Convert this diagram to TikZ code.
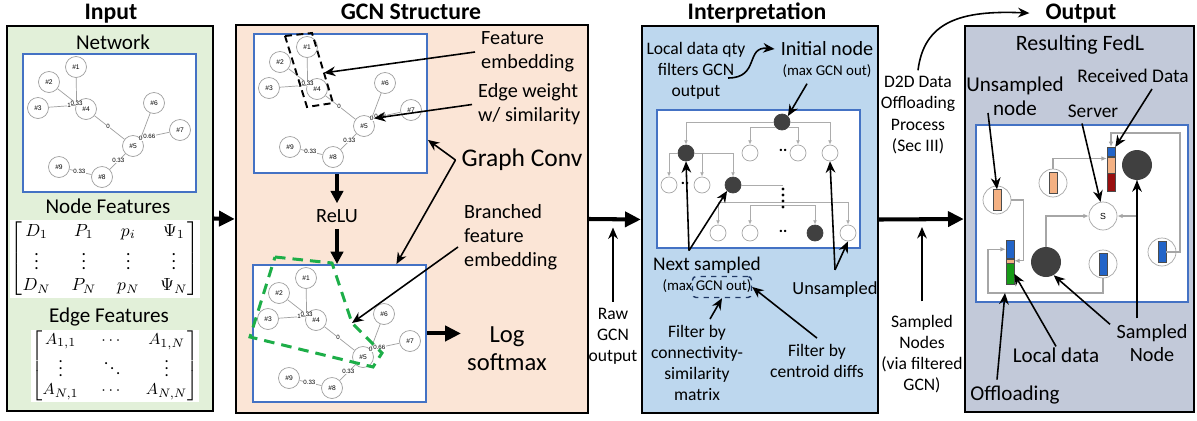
\documentclass[tikz,border=0pt]{standalone}
\usepackage[no-math]{fontspec}
\usepackage{amssymb,amsfonts,amsmath}
\usepackage{tikz}
\usetikzlibrary{shapes.geometric, arrows.meta}
\setmainfont{Carlito}
\newfontfamily\graphfont{Liberation Sans}

\definecolor{inputgreen}{HTML}{E2F0D9}
\definecolor{gcnpeach}{HTML}{FBE5D6}
\definecolor{interpblue}{HTML}{BDD7EE}
\definecolor{outgray}{HTML}{C2C9D9}
\definecolor{boxblue}{HTML}{4472C4}
\definecolor{nodedark}{HTML}{404040}
\definecolor{barorange}{HTML}{F4B183}
\definecolor{barblue}{HTML}{2264C8}
\definecolor{barred}{HTML}{990F0F}
\definecolor{bargreen}{HTML}{179A17}
\definecolor{embgreen}{HTML}{1DAE48}
\definecolor{tagblue}{HTML}{203864}

\tikzset{
    panel/.style={draw=black, line width=1.4pt},
    paneltitle/.style={font=\fontsize{13.5}{16}\selectfont\bfseries, anchor=base},
    label12/.style={font=\fontsize{12}{14}\selectfont, align=center},
    label115/.style={font=\fontsize{11.5}{13.6}\selectfont},
    label10/.style={font=\fontsize{10}{12}\selectfont, align=center},
    netbox/.style={draw=boxblue, line width=1.1pt, fill=white, inner sep=0},
    matbox/.style={fill=white, inner sep=0.5pt, font=\fontsize{10}{12}\selectfont},
    gnode/.style={circle, draw=gray!75, fill=white, minimum size=0.42cm, inner sep=0,
        font=\graphfont\fontsize{3.8}{4}\selectfont},
    gedge/.style={draw=gray!75, line width=0.4pt},
    glabel/.style={fill=white, inner sep=0.2pt, font=\graphfont\fontsize{3.5}{4}\selectfont},
    bigarrow/.style={-{Triangle[length=9pt,width=8.5pt]}, line width=2.3pt},
    midarrow/.style={-{Triangle[length=7pt,width=7pt]}, line width=1.8pt},
    note/.style={-{Stealth[length=6.5pt,width=5.5pt]}, line width=0.9pt},
    tnode/.style={circle, draw=gray!70, fill=white, minimum size=0.32cm, inner sep=0},
    tfull/.style={tnode, fill=nodedark, draw=nodedark},
    tedge/.style={draw=gray!65, line width=0.5pt, -{Latex[length=2.5pt,width=2.2pt]}},
    fnode/.style={circle, draw=gray!70, fill=white, minimum size=0.56cm, inner sep=0},
    ffull/.style={circle, fill=nodedark, minimum size=0.6cm, inner sep=0},
    bar/.style={draw=gray!60!black, line width=0.3pt, minimum width=0.16cm, inner sep=0},
    fedge/.style={draw=gray!70, line width=0.6pt, -{Latex[length=3pt,width=2.6pt]}},
    pics/netgraph/.style={code={
        \foreach \n/\x/\y in {1/54/14, 2/27/29, 3/16/55, 4/64/56, 5/111/93,
                              6/132/50, 7/158/77, 8/80/124, 9/37/114}
            \node[gnode] (-n\n) at (\x,\y) {\#\n};
        \draw[gedge] (-n1) -- node[glabel] {0.33} (-n4.150);
        \draw[gedge] (-n2) -- node[glabel] {0.33} (-n4.150);
        \draw[gedge] (-n3) -- node[glabel, pos=0.75] {1} (-n4.160);
        \draw[gedge] (-n4) -- node[glabel, pos=0.45] {0} (-n5);
        \draw[gedge] (-n6) -- node[glabel] (-w65) {0} (-n5.45);
        \draw[gedge] (-n7) -- node[glabel, pos=0.7] {0.66} (-n5.45);
        \draw[gedge] (-n8) -- node[glabel, pos=0.55] {0.33} (-n5);
        \draw[gedge] (-n9) -- node[glabel, pos=0.45] {0.33} (-n8);
    }}
}

\begin{document}
\begin{tikzpicture}[x=0.02cm, y=-0.02cm]
    \useasboundingbox (0,0) rectangle (1197,420);

    % Panels and their titles
    \node[panel, fill=inputgreen, minimum width=4.12cm, minimum height=7.7cm] (inp) at (110,218.5) {};
    \node[panel, fill=gcnpeach, minimum width=7.04cm, minimum height=7.76cm] (gcn) at (412,219) {};
    \node[panel, fill=interpblue, minimum width=4.72cm, minimum height=7.74cm] (itp) at (760,219.5) {};
    \node[panel, fill=outgray, minimum width=4.58cm, minimum height=7.72cm] (out) at (1079.5,219) {};
    \node[paneltitle] (inpTitle) at (111,19) {Input};
    \node[paneltitle] (gcnTitle) at (411,19) {GCN Structure};
    \node[paneltitle] (itpTitle) at (757,19) {Interpretation};
    \node[paneltitle] (outTitle) at (1081,19) {Output};

    % Input: network and feature matrices
    \node[label12] (netLbl) at (113,42) {Network};
    \node[netbox, minimum width=3.46cm, minimum height=2.76cm, anchor=north west] (netIn) at (22,53) {};
    \pic (gIn) at (22,53) {netgraph};
    \node[label12] (nfLbl) at (108,206) {Node Features};
    \node[matbox] (nfMat) at (105,259)
        {$\setlength\arraycolsep{6pt}\renewcommand\arraystretch{1.02}
          \begin{bmatrix} D_1 & P_1 & p_i & \Psi_1\\ \vdots & \vdots & \vdots & \vdots\\
          D_N & P_N & p_N & \Psi_N\end{bmatrix}$};
    \node[label12] (efLbl) at (109,317) {Edge Features};
    \node[matbox, font=\fontsize{9.5}{11}\selectfont] (efMat) at (115,366)
        {$\setlength\arraycolsep{6.5pt}\renewcommand\arraystretch{0.95}
          \begin{bmatrix} A_{1,1} & \cdots & A_{1,N}\\ \vdots & \ddots & \vdots\\
          A_{N,1} & \cdots & A_{N,N}\end{bmatrix}$};

    % GCN structure: two graph convolutions
    \node[netbox, minimum width=3.46cm, minimum height=2.78cm, anchor=north west] (netTop) at (253,33) {};
    \pic (gTop) at (253,33) {netgraph};
    \node[netbox, minimum width=3.46cm, minimum height=2.74cm, anchor=north west] (netBot) at (252,264) {};
    \pic (gBot) at (252,264) {netgraph};
    \draw[line width=1.1pt, dash pattern=on 4pt off 2.5pt]
        (285,36) -- (312,33) -- coordinate[pos=0.57] (embWin) (333,103) -- (307,107) -- cycle;
    \draw[embgreen, line width=1.7pt, dash pattern=on 6pt off 4pt]
        (275,257) -- (332,263) -- (352,323) coordinate (brWin) -- (382,353) -- (373,367) -- (250,337) -- cycle;

    \node[label115, align=left, anchor=west] (embTxt) at (475,52) {Feature\\embedding};
    \node[label115, align=left, anchor=west] (ewTxt) at (472,104.5) {Edge weight\\w/ similarity};
    \node[font=\fontsize{14.5}{17}\selectfont] (convTxt) at (522,160) {Graph Conv};
    \node[font=\fontsize{11.5}{13}\selectfont] (reluTxt) at (337,216) {ReLU};
    \node[label115, align=left, anchor=west] (brTxt) at (458,237) {Branched\\feature\\embedding};
    \node[font=\fontsize{14}{16}\selectfont, align=center] (lsTxt) at (507,349) {Log\\softmax};

    \draw[note] (embTxt.west) -- (embWin);
    \draw[note] (ewTxt.west) -- (gTop-w65.east);
    \draw[note] (convTxt.west) -- ([yshift=0.68cm]netTop.south east);
    \draw[note] (convTxt.west) -- ([xshift=1.14cm]netBot.north);
    \draw[note] ([yshift=-0.2cm]brTxt.west) -- (brWin);
    \draw[midarrow] (reluTxt.north |- netTop.south) -- (reluTxt.north);
    \draw[midarrow] (reluTxt.south) -- (reluTxt.south |- netBot.north);
    \draw[bigarrow] (netBot.east) -- (netBot.east -| lsTxt.west);

    % Interpretation: sampling tree
    \node[label10] (qtyTxt) at (696,71) {Local data qty\\filters GCN\\output};
    \node[font=\fontsize{11.5}{13}\selectfont] (initTxt) at (827,49) {Initial node};
    \node[font=\fontsize{8.5}{10}\selectfont] (initSub) at (827,71) {(max GCN out)};
    \node[netbox, minimum width=4.06cm, minimum height=2.76cm] (treeBox) at (758.5,179) {};

    \node[tfull] (root) at (782,122) {};
    \node[tfull] (ta) at (686,153) {};
    \node[tnode] (t1) at (750,153) {};
    \node[tnode] (t2) at (798,153) {};
    \node[tnode] (t3) at (830,153) {};
    \node[tnode] (ta1) at (669,185) {};
    \node[tnode] (ta2) at (702,185) {};
    \node[tfull] (tb) at (733,185) {};
    \node[tnode] (tb1) at (718,233) {};
    \node[tnode] (tb2) at (750,233) {};
    \node[tfull] (tb3) at (815,233) {};
    \node[tnode] (tb4) at (848,233) {};
    \foreach \x/\y [count=\i] in {783/150, 685/183, 783/231}
        \node[font=\bfseries\fontsize{9}{9}\selectfont, inner sep=0] (dots\i) at (\x,\y) {..};

    \draw[tedge] (root.west) -| (ta.north);
    \draw[tedge] (root.east) -| (t3.north);
    \draw[tedge] (root.220) -| (t1.north);
    \draw[tedge] (root.-40) -| (t2.north);
    \draw[tedge] (ta.west) -| (ta1.north);
    \draw[tedge] (ta.east) -| (ta2.north);
    \draw[tedge] (ta.east) -| (tb.north);
    \coordinate (tj) at (783,185);
    \coordinate (tl1) at (783,202);
    \coordinate (tl2) at (783,205);
    \draw[draw=gray!65, line width=0.5pt] (tb.east) -- (tj);
    \draw[tedge] (tl1) -| (tb1.north);
    \draw[tedge] (tl1) -| (tb4.north);
    \draw[tedge] (tl2) -| (tb2.north);
    \draw[tedge] (tl2) -| (tb3.north);
    \foreach \y in {189,195,201,207}
        \fill (783,\y) circle (0.9pt);

    \coordinate (qtyTail) at (728,78);
    \draw[note] (qtyTail) .. controls (760,78) and (745,46) .. (initTxt.west);
    \draw[note] ([xshift=-0.4cm]initSub.south) -- (root.north east);

    \node[font=\fontsize{11}{13}\selectfont] (nextTxt) at (707,265) {Next sampled};
    \node[font=\fontsize{8.5}{10}\selectfont] (nextSub) at (707,286) {(max GCN out)};
    \node[draw=tagblue, dashed, rounded corners=2pt, line width=0.8pt,
          minimum width=1.18cm, minimum height=0.42cm] (gcnTag) at (722,287) {};
    \node[font=\fontsize{10.5}{12}\selectfont] (unsTxt) at (835,290) {Unsampled};
    \node[label10] (connTxt) at (697,363) {Filter by\\connectivity-\\similarity\\matrix};
    \node[label10] (centTxt) at (817,361) {Filter by\\centroid diffs};

    \draw[note] ([xshift=-0.36cm]nextTxt.north) -- (ta.south);
    \draw[note] ([xshift=-0.36cm]nextTxt.north) -- (tb.south west);
    \draw[note] ([yshift=0.12cm]unsTxt.north) -- (t3.south);
    \draw[note] ([yshift=0.12cm]unsTxt.north) -- (tb4.south);
    \draw[note] ([xshift=0.26cm]connTxt.north) -- (gcnTag.south);
    \draw[note] (centTxt.north) -- (gcnTag.east);

    % Output: resulting federated network
    \node[font=\fontsize{12.5}{15}\selectfont] (fedTxt) at (1080,45) {Resulting FedL};
    \node[netbox, minimum width=4.24cm, minimum height=3.54cm] (fedBox) at (1082,213.5) {};

    \node[ffull] (sn1) at (1137,165) {};
    \node[ffull] (sn2) at (1046,262) {};
    \node[fnode, font=\graphfont\fontsize{5}{5}\selectfont] (srv) at (1103,216) {S};
    \node[fnode] (u1) at (997,200) {};
    \node[bar, fill=barorange, minimum height=0.42cm] (u1bar) at (u1) {};
    \node[fnode] (u2) at (1053,183) {};
    \node[bar, fill=barorange, minimum height=0.42cm] (u2bar) at (u2) {};
    \node[fnode] (v1) at (1103,264) {};
    \node[bar, fill=barblue, minimum height=0.44cm] (v1bar) at (v1) {};
    \node[fnode] (v2) at (1162,252) {};
    \node[bar, fill=barblue, minimum height=0.42cm] (v2bar) at (v2) {};

    \node[bar, fill=barblue, minimum height=0.18cm, anchor=north] (rcvB) at (1111,147) {};
    \node[bar, fill=barorange, minimum height=0.32cm, anchor=north] (rcvO) at (rcvB.south) {};
    \node[bar, fill=barred, minimum height=0.36cm, anchor=north] (rcvR) at (rcvO.south) {};
    \node[bar, fill=barblue, minimum height=0.36cm, anchor=north] (locB) at (1010,240) {};
    \node[bar, fill=barorange, minimum height=0.08cm, anchor=north] (locO) at (locB.south) {};
    \node[bar, fill=bargreen, minimum height=0.42cm, anchor=north] (locG) at (locO.south) {};

    \coordinate (rcorner) at (1180,133);
    \coordinate (lcorner) at (988,293);
    \draw[fedge] (u2.north) |- ([yshift=-0.04cm]rcvO.north west);
    \draw[fedge] (v2bar.east) -| (rcorner) -| (rcvB.north);
    \draw[fedge] (u1.east) -| ([xshift=0.18cm]locO.east) -- (locO.east);
    \draw[fedge] (v1.south) |- (lcorner) |- (locB.west);
    \draw[fedge, {Latex[length=3pt,width=2.6pt]}-] (srv.west) -| (sn2.north);
    \draw[fedge, {Latex[length=3pt,width=2.6pt]}-] (srv.east) -| (sn1.south);

    \node[font=\fontsize{12}{13.6}\selectfont, align=center] (unsNode) at (1015,96) {Unsampled\\node};
    \node[font=\fontsize{11}{13}\selectfont] (rcvTxt) at (1133,76) {Received Data};
    \node[font=\fontsize{11}{13}\selectfont] (srvTxt) at (1093,111) {Server};
    \node[font=\fontsize{11.5}{13}\selectfont, align=center] (sampNode) at (1152,343) {Sampled\\Node};
    \node[font=\fontsize{12}{14}\selectfont] (locTxt) at (1056,355) {Local data};
    \node[font=\fontsize{12}{14}\selectfont] (offTxt) at (1015,395) {Offloading};

    \coordinate (unsTail) at (988,113);
    \coordinate (offTip) at (1005,293);
    \draw[note] (unsTail) -- (u1bar.north);
    \draw[note] ([xshift=-0.22cm]srvTxt.south) -- (srv.100);
    \draw[note] ([xshift=0.38cm]rcvTxt.south) -- (rcvB.north east);
    \draw[note] (sn1.south |- sampNode.north) -- (sn1.south);
    \draw[note] ([xshift=-0.84cm,yshift=-0.12cm]sampNode.north) -- (sn2.-60);
    \draw[note] ([yshift=-0.1cm]locTxt.north) -- (locG.east);
    \draw[note] ([xshift=-0.36cm]offTxt.north) -- (offTip);

    % Connections between the stages
    \draw[bigarrow] (inp.east) -- (gcn.west);
    \draw[bigarrow] (gcn.east) -- (itp.west);
    \draw[bigarrow] (itp.east) -- (out.west);

    \node[label10] (rawTxt) at (613,336) {Raw\\GCN\\output};
    \draw[note] (rawTxt.north) -- ([yshift=-0.16cm]rawTxt.north |- itp.west);
    \node[label10] (sampTxt) at (922,354) {Sampled\\Nodes\\(via filtered\\GCN)};
    \draw[note] ([yshift=0.15cm]sampTxt.north) -- ([yshift=-0.16cm]sampTxt.north |- out.west);
    \node[label10] (d2dTxt) at (918,115) {D2D Data\\Offloading\\Process\\(Sec III)};
    \draw[note] (d2dTxt.north) .. controls (924,22) and (960,10) .. ([xshift=-0.2cm]outTitle.west);
\end{tikzpicture}
\end{document}
